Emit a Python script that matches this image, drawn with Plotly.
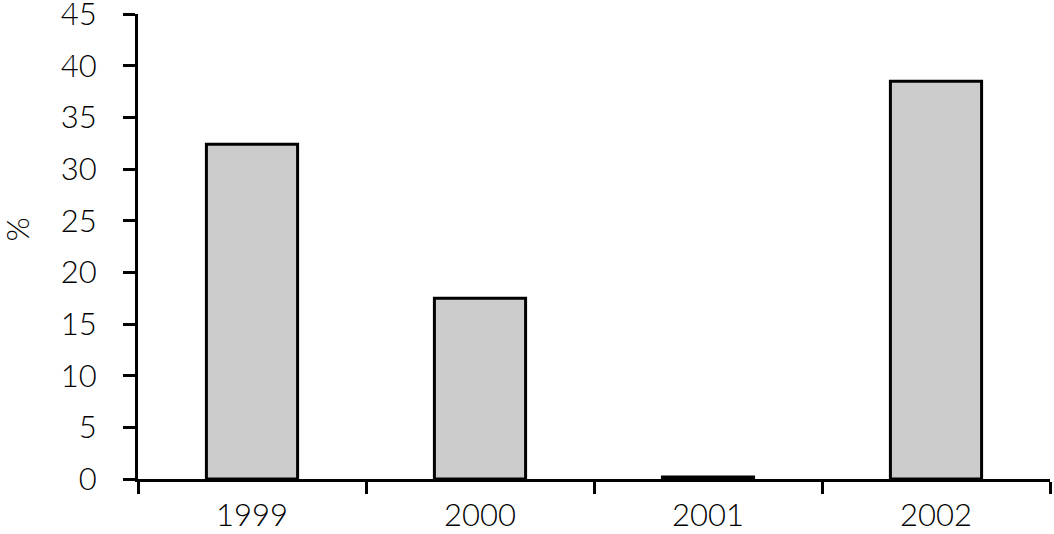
import plotly.graph_objects as go

years = ["1999", "2000", "2001", "2002"]
values = [32.4, 17.5, 0.2, 38.5]
y_ticks = [0, 5, 10, 15, 20, 25, 30, 35, 40, 45]

_FONT = dict(family="Lato, Noto Sans, sans-serif", size=31, color="black", weight=300)

fig = go.Figure(go.Bar(
    x=years,
    y=values,
    marker=dict(color="#cccccc", line=dict(color="black", width=3)),
    width=0.4,
))

fig.update_layout(
    width=1054,
    height=534,
    plot_bgcolor="white",
    paper_bgcolor="white",
    showlegend=False,
    font=_FONT,
    margin=dict(l=138, r=4, t=14, b=55),
    xaxis=dict(
        type="category",
        automargin=False,
        showline=True, linecolor="black", linewidth=3,
        ticks="outside", tickson="boundaries", ticklen=12, tickwidth=3, tickcolor="black",
        ticklabelstandoff=7,
        showgrid=False, zeroline=False,
    ),
    yaxis=dict(
        range=[0, 45],
        automargin=False,
        tickmode="array",
        tickvals=y_ticks,
        ticklabeloverflow="allow",
        ticklabelstandoff=20,
        showline=True, linecolor="black", linewidth=3,
        ticks="outside", ticklen=12, tickwidth=3, tickcolor="black",
        showgrid=False, zeroline=False,
    ),
    annotations=[dict(
        text="%", textangle=-90, showarrow=False,
        xref="paper", yref="paper", x=0, y=0.5,
        xanchor="center", yanchor="middle",
        xshift=-122, yshift=17,
    )],
)

# drop the default page margin so the figure sits at the window corner
fig.write_html(
    "out.html",
    config={"displayModeBar": False},
    post_script="document.body.style.margin='0';",
)
